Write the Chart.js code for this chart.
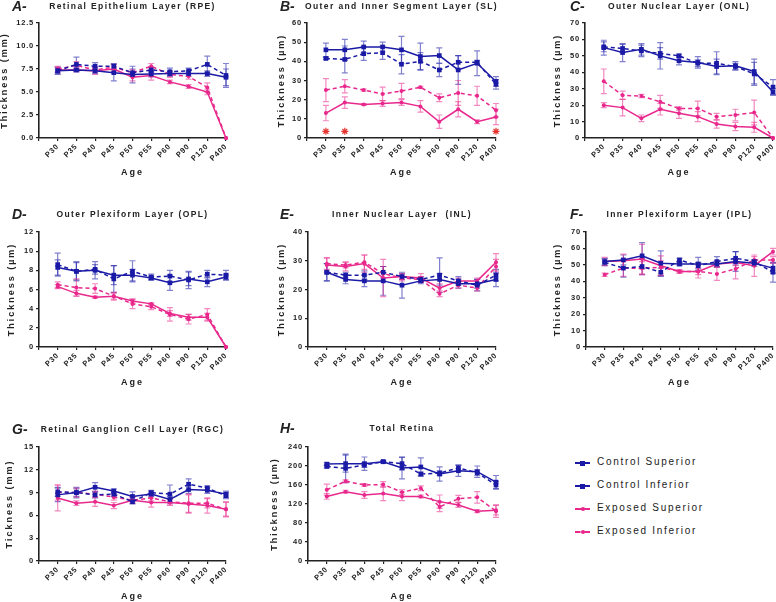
<!DOCTYPE html>
<html>
<head>
<meta charset="utf-8">
<script src="https://cdn.jsdelivr.net/npm/chart.js@4.4.1/dist/chart.umd.min.js"></script>
<style>
  html, body { margin: 0; padding: 0; background: #fff; overflow: hidden; width: 776px; height: 602px; }
  canvas { position: absolute; }
  .lg { position: absolute; left: 597px; font: 10px "Liberation Sans", Arial, sans-serif; letter-spacing: 1.7px; color: #222; line-height: 12px; }
  .sym { position: absolute; left: 575px; width: 15px; height: 0; border-top-width: 2px; }
  .sym i { position: absolute; left: 5px; top: -3.5px; width: 5px; height: 5px; }
</style>
</head>
<body>

<div class="sym" style="top:462px;border-top-style:solid;border-top-color:#1a1aa6"><i style="background:#1a1aa6"></i></div>
<div class="lg" style="top:456px">Control Superior</div>
<div class="sym" style="top:485px;border-top-style:dashed;border-top-color:#1a1aa6"><i style="background:#1a1aa6"></i></div>
<div class="lg" style="top:479px">Control Inferior</div>
<div class="sym" style="top:508px;border-top-style:solid;border-top-color:#e8288c"><i style="background:#e8288c;border-radius:50%;width:4px;height:4px;left:5.5px;top:-3px"></i></div>
<div class="lg" style="top:502px">Exposed Superior</div>
<div class="sym" style="top:531px;border-top-style:dashed;border-top-color:#e8288c"><i style="background:#e8288c;border-radius:50%;width:4px;height:4px;left:5.5px;top:-3px"></i></div>
<div class="lg" style="top:525px">Exposed Inferior</div>

<script>
const ages = ["P30", "P35", "P40", "P45", "P50", "P55", "P60", "P90", "P120", "P400"];

// A - RPE
const rpeCS = [7.3, 7.4, 7.3, 7.1, 6.9, 6.95, 7.0, 7.0, 7.0, 6.6];
const rpeCSerr = [0.4, 0.2, 0.3, 0.9, 0.9, 0.3, 0.3, 0.3, 0.3, 0.9];
const rpeCI = [7.3, 8.0, 7.8, 7.8, 7.1, 7.4, 7.2, 7.3, 8.0, 6.8];
const rpeCIerr = [0.3, 0.8, 0.4, 0.3, 0.4, 0.3, 0.4, 0.3, 0.9, 1.3];
const rpeES = [7.4, 7.4, 7.3, 7.5, 6.6, 6.8, 6.1, 5.6, 5.0, 0];
const rpeESerr = [0.3, 0.2, 0.4, 0.3, 0.4, 0.5, 0.2, 0.2, 0.3, 0];
const rpeEI = [7.5, 7.9, 7.4, 7.7, 7.1, 7.8, 6.9, 6.7, 5.5, 0];
const rpeEIerr = [0.3, 0.4, 0.3, 0.3, 0.3, 0.3, 0.3, 0.3, 0.5, 0];

// B - SL
const slCS = [46, 46, 47.5, 47.5, 46, 42.5, 43, 35.5, 39, 29.5];
const slCSerr = [3.5, 5.5, 3, 2.5, 7, 7, 4, 7.5, 6.5, 2.5];
const slCI = [41.5, 41, 44, 44.5, 38.5, 40, 35.5, 39.5, 39.5, 28];
const slCIerr = [0.5, 7, 3.5, 3.5, 5, 4.5, 3.5, 3.5, 1, 2.5];
const slES = [13, 18.5, 17.5, 18, 18.5, 16.5, 8.5, 15, 8.5, 11];
const slESerr = [4, 3, 0.5, 1.5, 1.5, 3, 3.5, 4, 1, 4];
const slEI = [25, 27, 25, 23, 24.5, 26.5, 21, 23.5, 22, 14.5];
const slEIerr = [6, 3.5, 0.5, 3.5, 4, 0.5, 2, 6.5, 5, 3.5];
const slStars = [3.5, 3.5, null, null, null, null, null, null, null, 3.5];

// C - ONL
const onlCS = [55, 52, 54, 50, 47, 46, 43.5, 44, 40.5, 28];
const onlCSerr = [4.5, 5.5, 3.5, 8, 2.5, 3.5, 4.5, 2.5, 7.5, 2];
const onlCI = [55.5, 54.5, 53, 51.5, 50, 45.5, 45.5, 43.5, 39, 31];
const onlCIerr = [3, 2.5, 3.5, 3.5, 1, 2, 7, 2, 7, 4.5];
const onlES = [20, 18.5, 12, 17.5, 15, 13, 8.5, 7, 6.5, 0];
const onlESerr = [1.5, 5, 2, 3.5, 3, 3, 2.5, 2.5, 3, 0];
const onlEI = [34.5, 26, 25.5, 22, 18, 18, 13, 14, 15.5, 0];
const onlEIerr = [7.5, 2.5, 1, 4, 1, 4.5, 2, 3.5, 7.5, 0];

// D - OPL
const oplCS = [8.3, 7.9, 8.0, 7.5, 7.5, 7.2, 6.7, 7.1, 6.8, 7.3];
const oplCSerr = [0.8, 0.9, 0.9, 1.0, 0.6, 0.2, 0.8, 0.7, 0.5, 0.3];
const oplCI = [8.6, 7.9, 8.1, 7.1, 7.9, 7.3, 7.4, 7.0, 7.6, 7.5];
const oplCIerr = [1.2, 1.0, 0.5, 1.4, 1.1, 0.3, 0.6, 0.9, 0.4, 0.5];
const oplES = [6.3, 5.6, 5.2, 5.3, 4.8, 4.5, 3.5, 3.1, 3.1, 0];
const oplESerr = [0.2, 0.3, 0.1, 0.3, 0.2, 0.1, 0.3, 0.3, 0.4, 0];
const oplEI = [6.5, 6.2, 6.1, 5.3, 4.5, 4.2, 3.4, 2.9, 3.4, 0];
const oplEIerr = [0.3, 0.9, 0.5, 0.4, 0.5, 0.3, 0.7, 0.5, 0.6, 0];

// E - INL
const inlCS = [26, 23.5, 23, 23, 21.5, 23, 23.5, 22, 22, 23.5];
const inlCSerr = [3, 1.5, 2, 5, 4.5, 1, 2, 1.5, 1.5, 2.5];
const inlCI = [26, 25, 25, 26, 24.5, 23.5, 25, 23, 21.5, 25];
const inlCIerr = [3, 1, 1.5, 2, 1, 1, 6, 1.5, 2, 2];
const inlES = [28.5, 28, 29, 24, 24.5, 24, 20.5, 23, 23, 29.5];
const inlESerr = [2.5, 1.5, 3, 6.5, 1, 1.5, 1.5, 1, 1, 3];
const inlEI = [29, 28.5, 29.5, 25.5, 24, 23.5, 18.5, 21.5, 20.5, 28];
const inlEIerr = [2, 1, 2.5, 2.5, 1, 1, 1, 1, 1, 2.5];

// F - IPL
const iplCS = [52, 53, 55.5, 51, 50.5, 50.5, 50.5, 52, 51, 48];
const iplCSerr = [2, 3, 8, 7.5, 1, 4, 2, 6, 2, 3];
const iplCI = [51.5, 48, 49, 45.5, 53, 49.5, 52, 54, 52, 45.5];
const iplCIerr = [2, 5.5, 5, 2.5, 1, 2, 3, 4, 1, 6];
const iplES = [52, 52.5, 53.5, 49.5, 46, 46, 50.5, 51.5, 49.5, 58];
const iplESerr = [2.5, 4, 9, 6, 1, 2, 1.5, 2, 6.5, 2];
const iplEI = [44, 48, 48, 48.5, 46, 46, 44.5, 47.5, 53, 53];
const iplEIerr = [1, 5, 4, 4, 1, 4, 4, 6, 2, 2];

// G - RGC
const rgcCS = [8.7, 9.0, 9.7, 9.2, 8.5, 8.8, 8.1, 9.4, 9.3, 8.8];
const rgcCSerr = [0.9, 0.7, 0.6, 0.3, 0.6, 0.3, 0.4, 0.5, 0.4, 0.4];
const rgcCI = [9.1, 9.0, 8.7, 8.8, 7.8, 9.0, 8.8, 10.1, 9.6, 8.6];
const rgcCIerr = [0.6, 0.5, 0.4, 0.3, 0.3, 0.3, 1.2, 0.7, 0.3, 0.4];
const rgcES = [8.3, 7.6, 7.8, 7.3, 8.0, 7.7, 7.7, 7.5, 7.3, 6.8];
const rgcESerr = [1.7, 0.3, 0.6, 0.4, 0.4, 0.6, 0.4, 1.2, 1.0, 1.0];
const rgcEI = [9.0, 9.0, 8.8, 8.4, 8.0, 8.3, 7.8, 7.6, 7.6, 6.8];
const rgcEIerr = [1.0, 0.6, 0.4, 0.4, 0.4, 0.4, 0.4, 1.2, 0.6, 0.9];

// H - Total retina
const totCS = [204, 205, 205, 209, 196, 198, 183, 190, 188, 166];
const totCSerr = [3, 18, 14, 2, 23, 19, 15, 12, 12, 14];
const totCI = [199, 195, 202, 209, 205, 183, 185, 196, 186, 160];
const totCIerr = [3, 30, 5, 2, 13, 4, 5, 6, 6, 8];
const totES = [136, 146, 139, 142, 136, 136, 125, 118, 105, 107];
const totESerr = [6, 3, 7, 15, 9, 3, 14, 5, 3, 10];
const totEI = [150, 168, 160, 161, 145, 153, 114, 131, 134, 105];
const totEIerr = [12, 3, 3, 6, 5, 5, 10, 7, 12, 13];

const BLUE = "#1a1aa6";
const PINK = "#e8288c";
const FONT = '"Liberation Sans", Arial, sans-serif';

const seriesStyle = [
  { label: "Control Superior", color: BLUE, err: "rgba(26,26,166,0.55)", dash: [], point: "rect", r: 3.3 },
  { label: "Control Inferior", color: BLUE, err: "rgba(26,26,166,0.55)", dash: [4, 3], point: "rect", r: 3.3 },
  { label: "Exposed Superior", color: PINK, err: "rgba(232,40,140,0.55)", dash: [], point: "circle", r: 2 },
  { label: "Exposed Inferior", color: PINK, err: "rgba(232,40,140,0.55)", dash: [4, 3], point: "circle", r: 2 }
];

// page positions (px) of each panel
const panels = [
  { el: "cA", letter: "A-", title: "Retinal Epithelium Layer (RPE)", yTitle: "Thickness (mm)", max: 12.5, step: 2.5, dec: 1,
    box: [0, 0, 250, 190], axisX: 39, endX: 226, topY: 23, zeroY: 138, letterX: 12, titleY: 7, yTitleX: 5, ageY: 173,
    values: [rpeCS, rpeCI, rpeES, rpeEI], errors: [rpeCSerr, rpeCIerr, rpeESerr, rpeEIerr] },
  { el: "cB", letter: "B-", title: "Outer and Inner Segment Layer (SL)", yTitle: "Thickness (µm)", max: 60, step: 10, dec: 0,
    box: [250, 0, 265, 190], axisX: 307, endX: 496, topY: 23, zeroY: 138, letterX: 280, titleY: 7, yTitleX: 282, ageY: 173,
    values: [slCS, slCI, slES, slEI], errors: [slCSerr, slCIerr, slESerr, slEIerr], stars: slStars },
  { el: "cC", letter: "C-", title: "Outer Nuclear Layer (ONL)", yTitle: "Thickness (µm)", max: 70, step: 10, dec: 0,
    box: [515, 0, 275, 190], axisX: 585, endX: 773, topY: 23, zeroY: 138, letterX: 570, titleY: 7, yTitleX: 558, ageY: 173,
    values: [onlCS, onlCI, onlES, onlEI], errors: [onlCSerr, onlCIerr, onlESerr, onlEIerr] },
  { el: "cD", letter: "D-", title: "Outer Plexiform Layer (OPL)", yTitle: "Thickness (µm)", max: 12, step: 2, dec: 0,
    box: [0, 190, 250, 200], axisX: 39, endX: 226, topY: 232, zeroY: 347, letterX: 12, titleY: 215, yTitleX: 12, ageY: 383,
    values: [oplCS, oplCI, oplES, oplEI], errors: [oplCSerr, oplCIerr, oplESerr, oplEIerr] },
  { el: "cE", letter: "E-", title: "Inner Nuclear Layer  (INL)", yTitle: "Thickness (µm)", max: 40, step: 10, dec: 0,
    box: [250, 190, 265, 200], axisX: 308, endX: 496, topY: 232, zeroY: 347, letterX: 280, titleY: 215, yTitleX: 282, ageY: 383,
    values: [inlCS, inlCI, inlES, inlEI], errors: [inlCSerr, inlCIerr, inlESerr, inlEIerr] },
  { el: "cF", letter: "F-", title: "Inner Plexiform Layer (IPL)", yTitle: "Thickness (µm)", max: 70, step: 10, dec: 0,
    box: [515, 190, 275, 200], axisX: 586, endX: 773, topY: 232, zeroY: 347, letterX: 570, titleY: 215, yTitleX: 558, ageY: 383,
    values: [iplCS, iplCI, iplES, iplEI], errors: [iplCSerr, iplCIerr, iplESerr, iplEIerr] },
  { el: "cG", letter: "G-", title: "Retinal Ganglion Cell Layer (RGC)", yTitle: "Tickness (mm)", max: 15, step: 3, dec: 0,
    box: [0, 400, 250, 202], axisX: 39, endX: 226, topY: 447, zeroY: 561, letterX: 12, titleY: 430, yTitleX: 10, ageY: 597,
    values: [rgcCS, rgcCI, rgcES, rgcEI], errors: [rgcCSerr, rgcCIerr, rgcESerr, rgcEIerr] },
  { el: "cH", letter: "H-", title: "Total Retina", yTitle: "Thickness (µm)", max: 240, step: 40, dec: 0,
    box: [250, 400, 265, 202], axisX: 308, endX: 496, topY: 447, zeroY: 561, letterX: 280, titleY: 429, yTitleX: 275, ageY: 597,
    values: [totCS, totCI, totES, totEI], errors: [totCSerr, totCIerr, totESerr, totEIerr] }
];

// error bars drawn under the lines, through the chart scales
const errorBars = {
  id: "errorBars",
  beforeDatasetsDraw(chart) {
    const { ctx, scales: { x, y } } = chart;
    chart.data.datasets.forEach(ds => {
      if (!ds.errors) return;
      ctx.save();
      ctx.strokeStyle = ds.errColor;
      ctx.lineWidth = 1.2;
      ds.data.forEach((p, i) => {
        const e = ds.errors[i];
        if (!e) return;
        const px = x.getPixelForValue(p.x);
        const hi = y.getPixelForValue(p.y + e);
        const lo = y.getPixelForValue(Math.max(p.y - e, 0));
        ctx.beginPath();
        ctx.moveTo(px, hi); ctx.lineTo(px, lo);
        ctx.moveTo(px - 3, hi); ctx.lineTo(px + 3, hi);
        ctx.moveTo(px - 3, lo); ctx.lineTo(px + 3, lo);
        ctx.stroke();
      });
      ctx.restore();
    });
  }
};

// panel letter, title, axis titles (spaced text)
const panelText = {
  id: "panelText",
  beforeDraw(chart) {
    chart.ctx.letterSpacing = "0.8px";
  },
  afterDraw(chart, args, o) {
    const { ctx, chartArea: a } = chart;
    const cx = (a.left + a.right) / 2;
    const cy = (a.top + a.bottom) / 2;
    ctx.save();
    ctx.fillStyle = "#222";
    ctx.textBaseline = "middle";
    ctx.letterSpacing = "0px";
    ctx.textAlign = "left";
    ctx.font = "italic bold 14px " + FONT;
    ctx.fillText(o.letter, o.letterX, o.titleY);
    ctx.textAlign = "center";
    ctx.letterSpacing = "1.4px";
    ctx.font = "bold 8.5px " + FONT;
    ctx.fillText(o.title, cx, o.titleY);
    ctx.letterSpacing = "2px";
    ctx.font = "bold 9px " + FONT;
    ctx.fillText("Age", cx, o.ageY);
    ctx.translate(o.yTitleX, cy);
    ctx.rotate(-Math.PI / 2);
    ctx.fillText(o.yTitle, 0, 0);
    ctx.restore();
  }
};

panels.forEach(p => {
  const [left, top, w, h] = p.box;
  const canvas = document.createElement("canvas");
  canvas.width = w;
  canvas.height = h;
  canvas.style.left = left + "px";
  canvas.style.top = top + "px";
  document.body.appendChild(canvas);

  const datasets = seriesStyle.map((s, k) => ({
    label: s.label,
    data: p.values[k].map((v, i) => ({ x: i, y: v })),
    errors: p.errors[k],
    errColor: s.err,
    borderColor: s.color,
    backgroundColor: s.color,
    pointBackgroundColor: s.color,
    pointBorderColor: s.color,
    pointBorderWidth: 0,
    borderWidth: 1.5,
    borderDash: s.dash,
    pointStyle: s.point,
    pointRadius: s.r,
    tension: 0,
    clip: false
  }));
  if (p.stars) {
    datasets.push({
      label: "p < 0.05",
      data: p.stars.map((v, i) => ({ x: i, y: v })).filter(d => d.y !== null),
      showLine: false,
      pointStyle: "star",
      pointRadius: 3.5,
      borderColor: "#e3342f",
      pointBorderWidth: 1.2,
      clip: false
    });
  }

  const tickFont = { family: FONT, size: 7.5, weight: "bold" };
  new Chart(canvas, {
    type: "line",
    data: { datasets },
    options: {
      responsive: false,
      animation: false,
      events: [],
      layout: { padding: { left: 0, top: p.topY - top, right: w - (p.endX - left), bottom: 0 } },
      plugins: {
        legend: { display: false },
        tooltip: { enabled: false },
        panelText: {
          letter: p.letter, title: p.title, yTitle: p.yTitle,
          letterX: p.letterX - left, titleY: p.titleY - top,
          yTitleX: p.yTitleX - left, ageY: p.ageY - top
        }
      },
      scales: {
        x: {
          type: "linear",
          min: -1,
          max: 9,
          afterFit: s => { s.height = top + h - p.zeroY; },
          ticks: {
            stepSize: 1,
            autoSkip: false,
            minRotation: 45,
            maxRotation: 45,
            padding: 1,
            color: "#222",
            font: tickFont,
            callback: v => ages[v] ?? ""
          },
          grid: { drawOnChartArea: false, tickLength: 3, color: "#222", lineWidth: 1.2 },
          border: { color: "#222", width: 1.6 }
        },
        y: {
          min: 0,
          max: p.max,
          afterFit: s => { s.width = p.axisX - left; },
          ticks: {
            stepSize: p.step,
            padding: 2,
            color: "#222",
            font: tickFont,
            callback: v => v.toFixed(p.dec)
          },
          grid: { drawOnChartArea: false, tickLength: 3, color: "#222", lineWidth: 1.2 },
          border: { color: "#222", width: 1.6 }
        }
      }
    },
    plugins: [errorBars, panelText]
  });
});
</script>
</body>
</html>
